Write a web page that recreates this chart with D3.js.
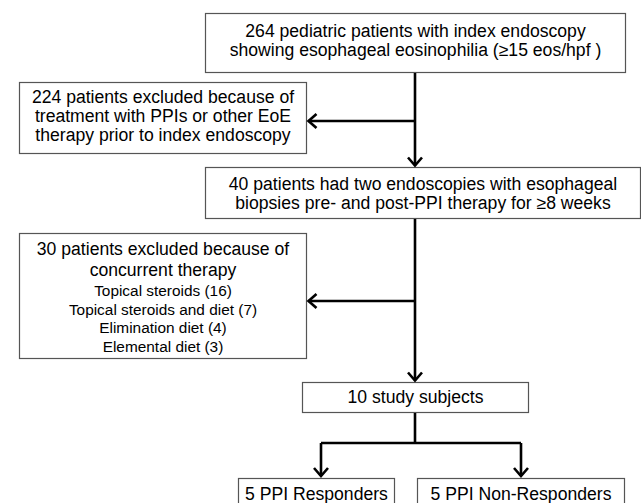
<!DOCTYPE html>
<html>
<head>
<meta charset="utf-8">
<script src="https://cdn.jsdelivr.net/npm/d3@7"></script>
<style>
  html, body { margin: 0; padding: 0; background: #fff; }
  svg { display: block; }
  text { font-family: "Liberation Sans", Arial, sans-serif; fill: #000; }
</style>
</head>
<body>
<svg id="chart" width="641" height="503"></svg>
<script>
// ---- data ----
const boxIds = ["index", "excl1", "pre_post", "excl2", "study", "resp", "nonresp"];
const boxCounts = [264, 224, 40, 30, 10, 5, 5];
const boxMainLines = [
  ["264 pediatric patients with index endoscopy", "showing esophageal eosinophilia (\u226515 eos/hpf )"],
  ["224 patients excluded because of", "treatment with PPIs or other EoE", "therapy prior to index endoscopy"],
  ["40 patients had two endoscopies with esophageal", "biopsies pre- and post-PPI therapy for \u22658 weeks"],
  ["30 patients excluded because of", "concurrent therapy"],
  ["10 study subjects"],
  ["5 PPI Responders"],
  ["5 PPI Non-Responders"]
];
const therapyCategories = ["Topical steroids", "Topical steroids and diet", "Elimination diet", "Elemental diet"];
const therapyCounts = [16, 7, 4, 3];
const flowLinks = [["index", "pre_post"], ["pre_post", "study"], ["study", "resp"], ["study", "nonresp"]];
const exclusionLinks = [["index", "excl1"], ["pre_post", "excl2"]];

// ---- layout ----
const layout = {
  index:    {x: 205, y: 13,  w: 420, h: 59,  ys: [37, 56]},
  excl1:    {x: 19,  y: 82,  w: 287, h: 71,  ys: [102.5, 121.5, 140.5]},
  pre_post: {x: 205, y: 167, w: 435, h: 51,  ys: [190, 209]},
  excl2:    {x: 19,  y: 233, w: 287, h: 125, ys: [255, 276]},
  study:    {x: 302, y: 382, w: 226, h: 30,  ys: [403]},
  resp:     {x: 238, y: 478, w: 156, h: 40,  ys: [500]},
  nonresp:  {x: 417, y: 478, w: 207, h: 40,  ys: [500]}
};
const subLineY = [296, 315, 333, 352];
const spineX = 415;

const svg = d3.select("#chart");
const boxes = boxIds.map((id, i) => ({id, count: boxCounts[i], lines: boxMainLines[i], ...layout[id]}));

// boxes
const g = svg.selectAll("g.box").data(boxes).join("g").attr("class", "box");
g.append("rect")
  .attr("x", d => d.x + 0.5).attr("y", d => d.y + 0.5)
  .attr("width", d => d.w).attr("height", d => d.h)
  .attr("fill", "#fff").attr("stroke", "#555").attr("stroke-width", 1.2);
g.each(function(d) {
  d3.select(this).selectAll("text.main").data(d.lines).join("text")
    .attr("class", "main")
    .attr("x", d.x + d.w / 2 + 0.5)
    .attr("y", (t, j) => d.ys[j])
    .attr("text-anchor", "middle")
    .attr("font-size", 17.6)
    .text(t => t);
});
// sub items of exclusion box 2
const ex2 = layout.excl2;
svg.selectAll("text.sub").data(therapyCategories).join("text")
  .attr("class", "sub")
  .attr("x", ex2.x + ex2.w / 2 + 0.5)
  .attr("y", (d, i) => subLineY[i])
  .attr("text-anchor", "middle")
  .attr("font-size", 15.4)
  .text((d, i) => `${d} (${therapyCounts[i]})`);

// arrow helper
const conn = svg.append("g").attr("fill", "none").attr("stroke", "#000")
  .attr("stroke-width", 2.6).attr("stroke-linecap", "butt").attr("stroke-linejoin", "miter");
function arrowHead(x, y, dir) {
  const a = 7, b = 8;
  let pts;
  if (dir === "down") pts = [[x - a, y - b], [x, y], [x + a, y - b]];
  else pts = [[x + b, y - a], [x, y], [x + b, y + a]];
  conn.append("path").attr("d", d3.line()(pts));
}
const line = d3.line();
const byId = Object.fromEntries(boxes.map(b => [b.id, b]));
const tipY = {pre_post: 165.5, study: 380.5};
flowLinks.forEach(([s, t]) => {
  const S = byId[s];
  if (t === "resp" || t === "nonresp") return;
  conn.append("path").attr("d", line([[spineX, S.y + S.h + 1], [spineX, tipY[t]]]));
  arrowHead(spineX, tipY[t], "down");
});
const branchY = {index: 121, pre_post: 301};
exclusionLinks.forEach(([s, t]) => {
  const T = byId[t];
  const y = branchY[s];
  conn.append("path").attr("d", line([[spineX, y], [T.x + T.w + 2.5, y]]));
  arrowHead(T.x + T.w + 2.5, y, "left");
});
const st = byId.study;
const splitY = 443;
const leftX = 321, rightX = 521;
conn.append("path").attr("d", line([[spineX, st.y + st.h + 1], [spineX, splitY]]));
conn.append("path").attr("d", line([[leftX, splitY], [rightX, splitY]]));
[leftX, rightX].forEach(x => {
  conn.append("path").attr("d", line([[x, splitY], [x, 476]]));
  arrowHead(x, 476, "down");
});
</script>
</body>
</html>
